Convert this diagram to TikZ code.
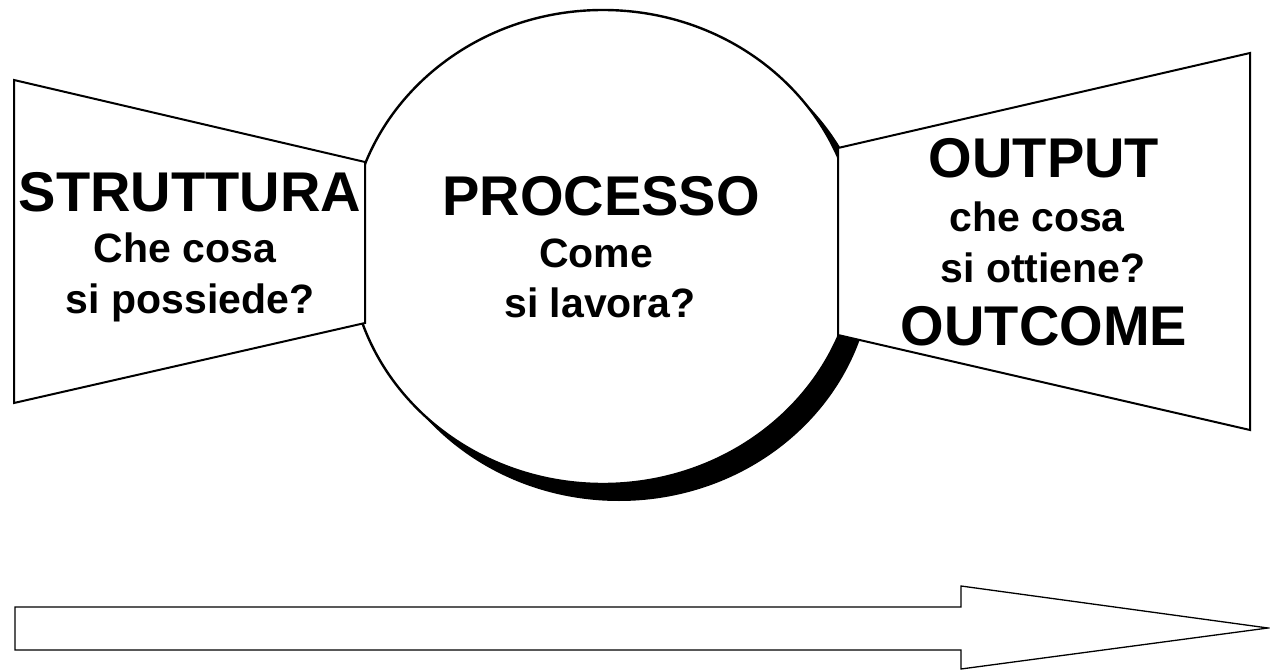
\documentclass[tikz,border=0pt]{standalone}
\usepackage{fontspec}
\setmainfont{Liberation Sans}
\begin{document}
\begin{tikzpicture}[x=1pt,y=-1pt,
  bigtext/.style={font=\fontsize{56}{56}\selectfont\bfseries, anchor=base, inner sep=0pt},
  smalltext/.style={font=\fontsize{41}{41}\selectfont\bfseries, anchor=base, inner sep=0pt},
  trap/.style={draw=black, fill=white, line width=2pt, line join=miter},
  arrowshape/.style={draw=black, fill=white, line width=1.3pt, line join=miter}]
\useasboundingbox (0,0) rectangle (1270,671);
% process circle with shadow
\path[fill=black] (619,264) ellipse [x radius=254, y radius=237];
\path[draw=black, fill=white, line width=2.4pt] (603,247) ellipse [x radius=254, y radius=237];
% input / output trapezoids
\path[trap] (14,80) coordinate (s1) -- (365,162) coordinate (s2) -- (365,323) coordinate (s3) -- (14,403) coordinate (s4) -- cycle;
\path[trap] (838,148) coordinate (o1) -- (1250,53) coordinate (o2) -- (1250,430) coordinate (o3) -- (838,335) coordinate (o4) -- cycle;
% texts
\node[bigtext] (str) at (190,212) {STRUTTURA};
\node[smalltext] (str1) at (185,263) {Che cosa};
\node[smalltext] (str2) at (190,313) {si possiede?};
\node[bigtext] (proc) at (601,216) {PROCESSO};
\node[smalltext] (proc1) at (596,268) {Come};
\node[smalltext] (proc2) at (600,318) {si lavora?};
\node[bigtext] (out) at (1044,178) {OUTPUT};
\node[smalltext] (out1) at (1037,232) {che cosa};
\node[smalltext] (out2) at (1043,283) {si ottiene?};
\node[bigtext] (outc) at (1044,345) {OUTCOME};
% big arrow
\path[arrowshape] (15,607) coordinate (a1) -- (961,607) -- (961,586) -- (1268,628) coordinate (tip) -- (961,669) -- (961,650) -- (15,650) -- cycle;
\end{tikzpicture}
\end{document}
